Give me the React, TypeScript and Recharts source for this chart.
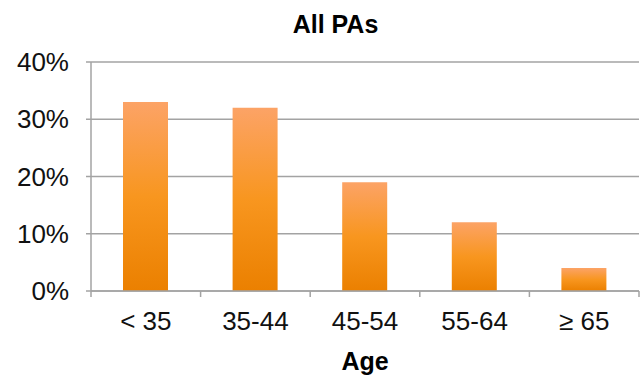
import React from 'react';
import { BarChart, Bar, XAxis, YAxis, CartesianGrid } from 'recharts';

const ageGroups = ['< 35', '35-44', '45-54', '55-64', '≥ 65'];
const sharePct = [33, 32, 19, 12, 4];
const yTicks = [0, 10, 20, 30, 40];

const data = ageGroups.map((age, i) => ({ age, share: sharePct[i] }));

const WIDTH = 641;
const HEIGHT = 379;
const MARGIN = { top: 62, right: 2, left: 0, bottom: 0 };
const Y_AXIS_W = 91;
const BAND = (WIDTH - MARGIN.left - MARGIN.right - Y_AXIS_W) / ageGroups.length;

const FONT = '"Liberation Sans", Arial, Helvetica, sans-serif';
const AXIS_GRAY = '#A3A3A3';

// category label plus the boundary tick marks between categories
const AgeTick = (props: any) => {
  const { x, y, payload, index } = props;
  const axisY = y - 21;
  const left = x - BAND / 2;
  return (
    <g>
      <line x1={left} x2={left} y1={axisY} y2={axisY + 6} stroke={AXIS_GRAY} strokeWidth={1.5} />
      {index === ageGroups.length - 1 && (
        <line x1={left + BAND} x2={left + BAND} y1={axisY} y2={axisY + 6} stroke={AXIS_GRAY} strokeWidth={1.5} />
      )}
      <text x={x} y={y} dy="0.71em" textAnchor="middle" fontSize={26} fill="#111" fontFamily={FONT}>
        {payload.value}
      </text>
    </g>
  );
};

const App = () => {
  return (
    <div style={{ position: 'absolute', left: 0, top: 0, width: WIDTH, height: HEIGHT, background: '#fff' }}>
      <div
        style={{
          position: 'absolute', left: 0, width: 671, top: 9, height: 30, lineHeight: '30px',
          textAlign: 'center', fontFamily: FONT, fontWeight: 'bold', fontSize: 25, color: '#000',
        }}
      >
        All PAs
      </div>
      <BarChart width={WIDTH} height={HEIGHT} data={data} margin={MARGIN} barSize={45}>
        <defs>
          <linearGradient id="barFill" x1="0" y1="0" x2="0" y2="1">
            <stop offset="0%" stopColor="#FCA366" />
            <stop offset="50%" stopColor="#F8961F" />
            <stop offset="100%" stopColor="#EB8000" />
          </linearGradient>
        </defs>
        <CartesianGrid vertical={false} stroke={AXIS_GRAY} strokeWidth={1.5} />
        <XAxis
          dataKey="age"
          height={HEIGHT - MARGIN.top - 229}
          axisLine={{ stroke: AXIS_GRAY, strokeWidth: 1.5 }}
          tickLine={false}
          tickSize={0}
          tickMargin={21}
          interval={0}
          tick={<AgeTick />}
        />
        <YAxis
          width={Y_AXIS_W}
          domain={[0, 40]}
          ticks={yTicks}
          tickFormatter={(v: number) => `${v}%`}
          axisLine={{ stroke: AXIS_GRAY, strokeWidth: 1.5 }}
          tickLine={{ stroke: AXIS_GRAY, strokeWidth: 1.5 }}
          tickSize={5}
          tickMargin={17}
          tick={{ fontSize: 26, fill: '#111', fontFamily: FONT }}
        />
        <Bar dataKey="share" fill="url(#barFill)" isAnimationActive={false} />
      </BarChart>
      <div
        style={{
          position: 'absolute', left: 91, width: 548, top: 346, height: 30, lineHeight: '30px',
          textAlign: 'center', fontFamily: FONT, fontWeight: 'bold', fontSize: 25, color: '#000',
        }}
      >
        Age
      </div>
    </div>
  );
};

export default App;
